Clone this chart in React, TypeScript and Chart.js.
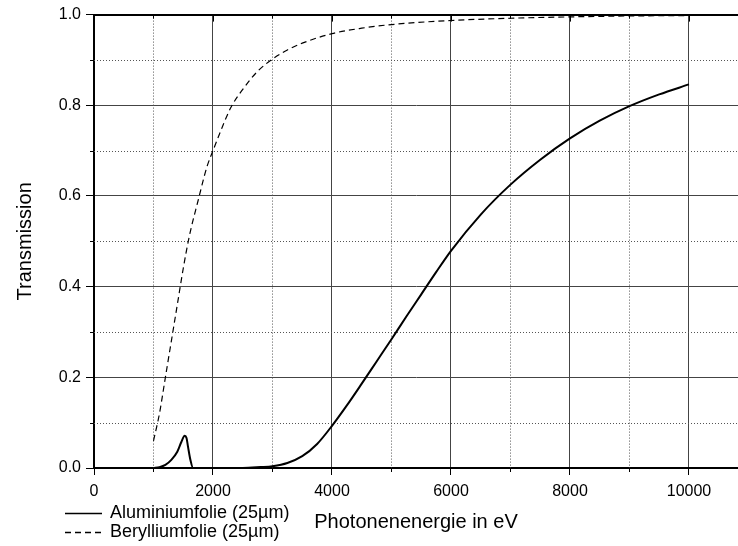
import { useEffect, useRef } from 'react';
import { Chart, registerables } from 'chart.js';

Chart.register(...registerables);

// ---------- data ----------
const seriesLabels = ['Aluminiumfolie (25µm)', 'Berylliumfolie (25µm)'];
const xTitle = 'Photonenenergie in eV';
const yTitle = 'Transmission';

const alEnergy = [1000, 1100, 1200, 1300, 1400, 1470, 1525, 1555, 1580, 1620, 1665, 2000, 2500, 2800, 3000, 3250, 3500, 3750, 4000, 4250, 4500, 4750, 5000, 5250, 5500, 5750, 6000, 6500, 7000, 7500, 8000, 8500, 9000, 9500, 10000];
const alTransmission = [0, 0.002, 0.007, 0.018, 0.036, 0.058, 0.071, 0.066, 0.047, 0.018, 0, 0, 0, 0.002, 0.004, 0.011, 0.026, 0.053, 0.093, 0.138, 0.186, 0.235, 0.284, 0.334, 0.383, 0.432, 0.479, 0.559, 0.625, 0.68, 0.727, 0.766, 0.798, 0.824, 0.846];

const beEnergy = [1000, 1100, 1200, 1300, 1400, 1500, 1600, 1750, 1900, 2000, 2150, 2300, 2500, 2750, 3000, 3250, 3500, 4000, 4500, 5000, 6000, 7000, 8000, 9000, 10000];
const beTransmission = [0.06, 0.12, 0.2, 0.28, 0.36, 0.44, 0.51, 0.59, 0.665, 0.7, 0.75, 0.795, 0.835, 0.875, 0.902, 0.922, 0.937, 0.958, 0.97, 0.978, 0.987, 0.992, 0.995, 0.997, 0.998];

const xMajorTicks = [0, 2000, 4000, 6000, 8000, 10000];
const xMinorTicks = [1000, 3000, 5000, 7000, 9000];
const yMajorTicks = [0, 0.2, 0.4, 0.6, 0.8, 1.0];
const yMinorTicks = [0.1, 0.3, 0.5, 0.7, 0.9];
const xMin = 0;
const xMax = 10824;
const yMin = 0;
const yMax = 1;

const FONT = "'Liberation Sans', Arial, Helvetica, sans-serif";

const decorPlugin = {
  id: 'decor',
  beforeDatasetsDraw(chart: any) {
    const { ctx, chartArea: a, scales } = chart;
    const x = scales.x;
    const y = scales.y;
    ctx.save();
    // minor dotted grid
    ctx.strokeStyle = '#555';
    ctx.lineWidth = 1;
    ctx.setLineDash([1, 2]);
    ctx.beginPath();
    xMinorTicks.forEach((v) => {
      const px = Math.round(x.getPixelForValue(v)) + 0.5;
      ctx.moveTo(px, a.top);
      ctx.lineTo(px, a.bottom);
    });
    yMinorTicks.forEach((v) => {
      const py = Math.round(y.getPixelForValue(v)) + 0.5;
      ctx.moveTo(a.left, py);
      ctx.lineTo(a.right, py);
    });
    ctx.stroke();
    ctx.setLineDash([]);
    // minor tick marks and top inward ticks
    ctx.strokeStyle = '#000';
    ctx.beginPath();
    xMinorTicks.forEach((v) => {
      const px = Math.round(x.getPixelForValue(v)) + 0.5;
      ctx.moveTo(px, a.bottom);
      ctx.lineTo(px, a.bottom + 4);
      ctx.moveTo(px, a.top);
      ctx.lineTo(px, a.top + 4);
    });
    xMajorTicks.forEach((v) => {
      const px = Math.round(x.getPixelForValue(v)) + 0.5;
      ctx.moveTo(px, a.top);
      ctx.lineTo(px, a.top + 7);
    });
    yMinorTicks.forEach((v) => {
      const py = Math.round(y.getPixelForValue(v)) + 0.5;
      ctx.moveTo(a.left - 4, py);
      ctx.lineTo(a.left, py);
    });
    ctx.stroke();
    // top border
    ctx.lineWidth = 2;
    ctx.beginPath();
    ctx.moveTo(a.left - 1, Math.round(a.top));
    ctx.lineTo(a.right, Math.round(a.top));
    ctx.stroke();
    ctx.restore();
  },
  afterDraw(chart: any) {
    const { ctx } = chart;
    ctx.save();
    const rows = [513, 532];
    chart.data.datasets.forEach((ds: any, i: number) => {
      const yy = rows[i];
      ctx.strokeStyle = '#000';
      ctx.lineWidth = 1.5;
      ctx.setLineDash(ds.borderDash || []);
      ctx.beginPath();
      ctx.moveTo(65, yy + 0.5);
      ctx.lineTo(102, yy + 0.5);
      ctx.stroke();
      ctx.setLineDash([]);
      ctx.fillStyle = '#000';
      ctx.font = `18px ${FONT}`;
      ctx.textBaseline = 'middle';
      ctx.textAlign = 'left';
      ctx.fillText(ds.label, 110, yy);
    });
    ctx.restore();
  },
};

export default function App() {
  const ref = useRef<HTMLCanvasElement | null>(null);

  useEffect(() => {
    if (!ref.current) return;
    const chart = new Chart(ref.current, {
      type: 'line',
      data: {
        datasets: [
          {
            label: seriesLabels[0],
            data: alEnergy.map((e, i) => ({ x: e, y: alTransmission[i] })),
            borderColor: '#000',
            borderWidth: 2,
            pointRadius: 0,
            fill: false,
            cubicInterpolationMode: 'monotone',
          },
          {
            label: seriesLabels[1],
            data: beEnergy.map((e, i) => ({ x: e, y: beTransmission[i] })),
            borderColor: '#000',
            borderWidth: 1.2,
            borderDash: [6, 4],
            pointRadius: 0,
            fill: false,
            cubicInterpolationMode: 'monotone',
          },
        ],
      },
      options: {
        animation: false,
        responsive: false,
        devicePixelRatio: 1,
        layout: { padding: { top: 13, right: 0, bottom: 0, left: 0 } },
        plugins: {
          legend: { display: false },
          tooltip: { enabled: false },
        },
        scales: {
          x: {
            type: 'linear',
            min: xMin,
            max: xMax,
            afterBuildTicks: (s: any) => {
              s.ticks = xMajorTicks.map((v) => ({ value: v }));
            },
            afterFit: (s: any) => {
              s.height = 78;
            },
            ticks: {
              font: { family: FONT, size: 16 },
              color: '#000',
              maxRotation: 0,
              autoSkip: false,
              padding: 7,
              callback: (v: any) => String(v),
            },
            grid: {
              color: '#444',
              lineWidth: 1,
              tickLength: 7,
              tickColor: '#000',
            },
            border: { display: true, color: '#000', width: 2 },
            title: {
              display: true,
              text: xTitle,
              color: '#000',
              font: { family: FONT, size: 20 },
              padding: { top: 0, bottom: 12 },
            },
          },
          y: {
            type: 'linear',
            min: yMin,
            max: yMax,
            afterBuildTicks: (s: any) => {
              s.ticks = yMajorTicks.map((v) => ({ value: v }));
            },
            afterFit: (s: any) => {
              s.width = 94;
            },
            ticks: {
              font: { family: FONT, size: 16 },
              color: '#000',
              padding: 5,
              callback: (v: any) => Number(v).toFixed(1),
            },
            grid: {
              color: '#444',
              lineWidth: 1,
              tickLength: 8,
              tickColor: '#000',
            },
            border: { display: true, color: '#000', width: 2 },
            title: {
              display: true,
              text: yTitle,
              color: '#000',
              font: { family: FONT, size: 20 },
              padding: { top: 13, bottom: 0 },
            },
          },
        },
      } as any,
      plugins: [decorPlugin],
    });
    return () => chart.destroy();
  }, []);

  return (
    <div style={{ position: 'fixed', left: 0, top: 0, width: 738, height: 546, background: '#fff' }}>
      <canvas ref={ref} width={738} height={546} style={{ display: 'block', width: 738, height: 546 }} />
    </div>
  );
}
